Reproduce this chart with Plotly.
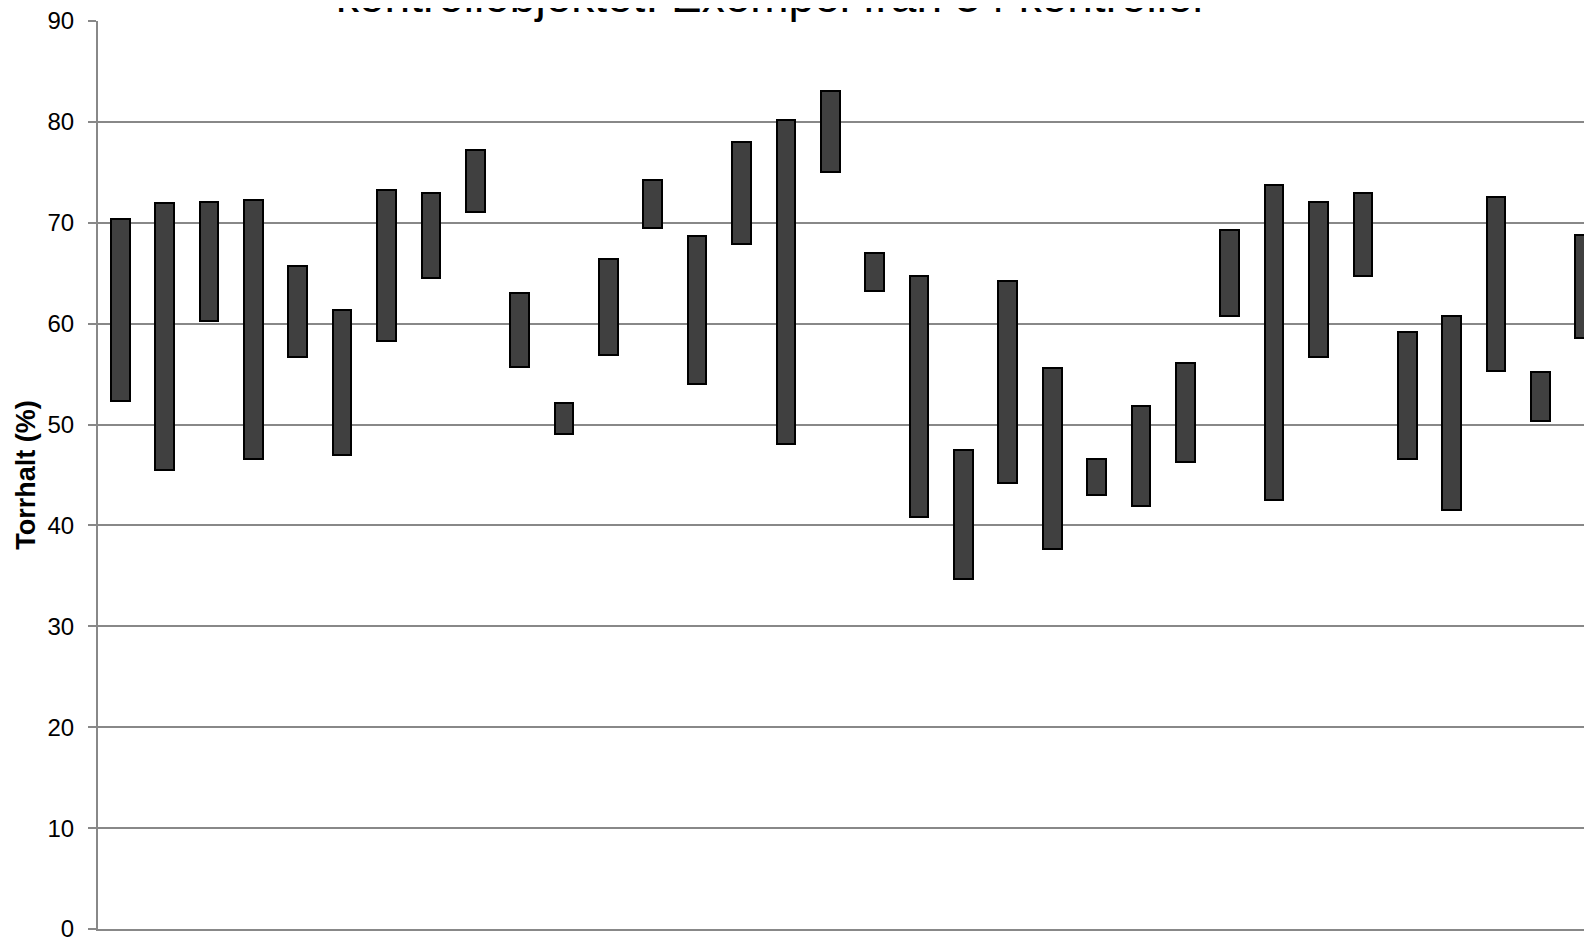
import plotly.graph_objects as go

# Data: dry matter content (Torrhalt, %) range per control (min / max)
categories = [f"Kontroll {i}" for i in range(1, 35)]
low = [52.3, 45.5, 60.3, 46.6, 56.7, 47.0, 58.3, 64.5, 71.1, 55.7,
       49.1, 56.9, 69.5, 54.0, 67.9, 48.1, 75.0, 63.2, 40.8, 34.7,
       44.2, 37.7, 43.0, 41.9, 46.3, 60.8, 42.5, 56.7, 64.7, 46.6,
       41.5, 55.3, 50.4, 58.6]
high = [70.4, 72.0, 72.1, 72.3, 65.7, 61.4, 73.2, 73.0, 77.2, 63.0,
        52.1, 66.4, 74.2, 68.7, 78.0, 80.2, 83.1, 67.0, 64.7, 47.5,
        64.2, 55.6, 46.6, 51.8, 56.1, 69.3, 73.7, 72.1, 73.0, 59.2,
        60.8, 72.6, 55.2, 68.8]
y_ticks = [0, 10, 20, 30, 40, 50, 60, 70, 80, 90]
title_text = "kontrollobjektet. Exempel från 34 kontroller"
y_title = "Torrhalt (%)"

span = [h - l for h, l in zip(high, low)]

fig = go.Figure()
fig.add_trace(go.Bar(
    x=categories,
    y=span,
    base=low,
    width=0.42,
    marker=dict(color="#404040", line=dict(color="#000000", width=2)),
    hoverinfo="skip",
))

# page body has an 8px margin, so the figure starts at (8, 8)
W, H = 1584, 931
ml, mt, mb = 89.7, 13, 9.7
plot_w = W - ml
spacing = 44.39
x_hi = -0.5 + plot_w / spacing

fig.update_layout(
    width=W, height=H,
    margin=dict(l=ml, r=0, t=mt, b=mb, pad=0, autoexpand=False),
    paper_bgcolor="white", plot_bgcolor="white",
    showlegend=False,
    font=dict(family="Liberation Sans, Arial, sans-serif", color="#000000"),
    bargap=0,
)
fig.update_xaxes(
    type="category",
    range=[-0.5, x_hi],
    showticklabels=False,
    ticks="",
    showgrid=False,
    showline=True, linecolor="#888888", linewidth=2,
    zeroline=False,
    fixedrange=True,
    automargin=False,
)
fig.update_yaxes(
    range=[0, 90],
    tickvals=y_ticks,
    ticktext=[str(v) for v in y_ticks],
    tickfont=dict(size=24, family="Liberation Sans, Arial, sans-serif", color="#000000"),
    ticks="outside", ticklen=8, tickwidth=2, tickcolor="#888888",
    ticklabelstandoff=9,
    ticklabeloverflow="allow",
    showgrid=True, gridcolor="#888888", gridwidth=2,
    showline=True, linecolor="#888888", linewidth=2,
    zeroline=False,
    title=dict(text=f"<b>{y_title}</b>", font=dict(size=27), standoff=4),
    fixedrange=True,
    automargin=False,
)

fig.add_annotation(
    text=title_text,
    xref="paper", yref="paper",
    x=(772 - 8 - ml) / plot_w, y=1,
    xanchor="center", yanchor="bottom",
    yshift=-3,
    showarrow=False,
    font=dict(size=46, family="Liberation Sans, Arial, sans-serif", color="#000000"),
)

fig.write_html("out.html")
